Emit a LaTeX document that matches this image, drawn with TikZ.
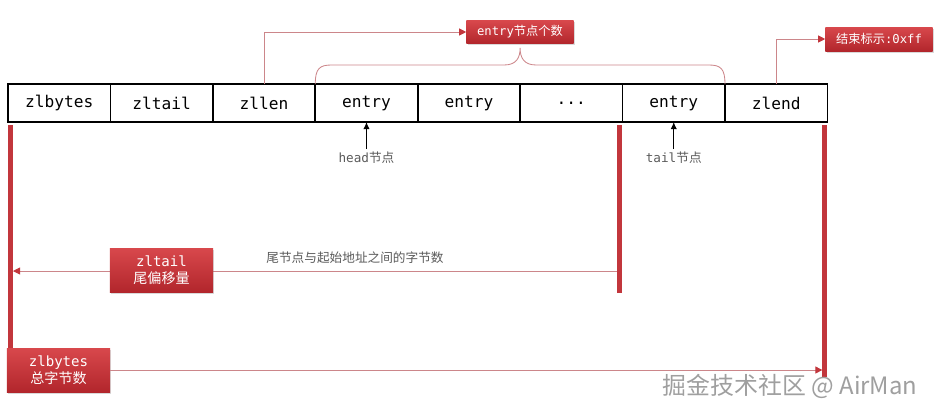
\documentclass[tikz,border=0pt]{standalone}
\usepackage{fontspec}
\setmonofont{DejaVu Sans Mono}
\newfontfamily\cjk{Noto Sans CJK SC}
\usetikzlibrary{arrows.meta,positioning,calc,shadows}
\definecolor{zlred}{RGB}{194,54,60}
\definecolor{zlredtop}{RGB}{216,72,76}
\definecolor{zlredbot}{RGB}{178,38,44}
\definecolor{linkpink}{RGB}{204,134,138}
\definecolor{labelgray}{RGB}{90,90,90}

\begin{document}
\begin{tikzpicture}[x=0.025cm,y=-0.025cm,
  cell/.style={draw,line width=1.2pt,outer sep=0pt,minimum width=2.56cm,minimum height=0.95cm,inner sep=0pt,font=\ttfamily\fontsize{11.5}{13}\selectfont},
  redbox/.style={top color=zlredtop,bottom color=zlredbot,text=white,inner sep=2pt,align=center,
    drop shadow={opacity=0.3,shadow xshift=0.8pt,shadow yshift=-1.2pt}},
  bar/.style={draw=zlred,line width=3.6pt},
  link/.style={draw=linkpink,line width=0.6pt},
  conn/.style={link,-{Triangle[length=5pt,width=5pt,color=zlred]}},
  note/.style={text=labelgray,inner sep=1.5pt,font=\fontsize{9}{11}\selectfont}]
  \useasboundingbox (0,0) rectangle (940,417);

  % ziplist layout
  \node[cell] (c1) at (59.2,103) {zlbytes};
  \node[cell,right=0pt of c1] (c2) {zltail};
  \node[cell,right=0pt of c2] (c3) {zllen};
  \node[cell,right=0pt of c3] (c4) {entry};
  \node[cell,right=0pt of c4] (c5) {entry};
  \node[cell,right=0pt of c5] (c6) {...};
  \node[cell,right=0pt of c6] (c7) {entry};
  \node[cell,right=0pt of c7] (c8) {zlend};

  \node[redbox,minimum width=2.675cm,minimum height=0.575cm,font=\fontsize{8.7}{10}\selectfont] (cnt) at (520,32) {{\ttfamily entry}{\cjk 节点个数}};
  \node[redbox,minimum width=2.675cm,minimum height=0.6cm,font=\fontsize{8.7}{10}\selectfont] (endmark) at (879,39) {{\cjk 结束标示}{\ttfamily :0xff}};
  \node[redbox,minimum width=2.575cm,minimum height=1.1cm,font=\fontsize{10}{12.5}\selectfont] (bytes) at (58.5,370) {{\ttfamily zlbytes}\\{\cjk 总字节数}};

  % red markers
  \coordinate (lb) at ($(c1.south west)+(2.5,3)$);
  \coordinate (mb) at ($(c7.south west)+(-3,3)$);
  \coordinate (rb) at ($(c8.south east)+(-2.5,3)$);
  \draw[bar] (lb) -- (lb |- bytes.north);
  \draw[bar] (mb) -- ++(0,168);
  \draw[bar] (rb) -- ++(0,252);

  \coordinate (tb) at ($(mb)+(-3,146)$);
  \draw[conn,shorten >=1.8pt] (tb) -- (tb -| lb);
  \node[redbox,minimum width=2.575cm,minimum height=1.1cm,font=\fontsize{10}{12.5}\selectfont] (tailbox) at (161.5,270) {{\ttfamily zltail}\\{\cjk 尾偏移量}};
  \node[note] (tailnote) at (355,258) {\cjk 尾节点与起始地址之间的字节数};

  \draw[conn,shorten >=1.8pt] (bytes.east) -- (bytes.east -| rb);
  \draw[conn] (c3.north) |- (cnt.west);
  \draw[conn] (c8.north) |- (endmark.west);

  % brace over the entries
  \draw[link] (c4.north west) .. controls +(0,-15) and +(-12,0) .. ++(16,-19)
    -- ($(c4.north west)!.5!(c7.north east)+(-16,-19)$)
    .. controls +(12,0) and +(0,10) .. ++(16,-17)
    .. controls +(0,10) and +(-12,0) .. ++(16,17)
    -- ($(c7.north east)+(-16,-19)$)
    .. controls +(12,0) and +(0,-15) .. (c7.north east);

  \node[note,below=0.68cm of c4] (head) {{\ttfamily head}{\cjk 节点}};
  \node[note,below=0.68cm of c7] (tail) {{\ttfamily tail}{\cjk 节点}};
  \foreach \a/\b in {head/c4,tail/c7}{
    \draw[-{Latex[length=5pt,width=4.5pt]},line width=0.8pt] (\a) -- (\b);
  }

  \node[text=gray!75,font=\cjk\fontsize{17}{20}\selectfont] (mark) at (790,386) {掘金技术社区 @ AirMan};
\end{tikzpicture}
\end{document}
